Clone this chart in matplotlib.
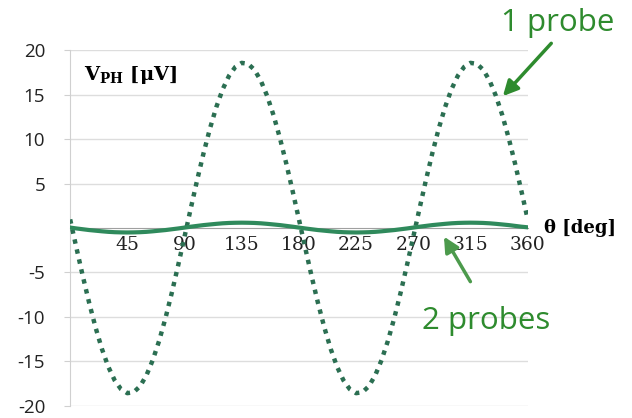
import numpy as np
import matplotlib
matplotlib.use("Agg")
import matplotlib.pyplot as plt

plt.rcParams["axes.unicode_minus"] = False
plt.rcParams["mathtext.fontset"] = "dejavuserif"

# angle [deg], sampled every 5 degrees
theta = list(range(0, 365, 5))

# 1 probe (dotted), in uV
one_probe = [0.97, -2.27, -5.44, -8.44, -11.19, -13.60, -15.60, -17.12, -18.12, -18.57,
             -18.46, -17.79, -16.57, -14.85, -12.69, -10.13, -7.27, -4.18,
             -0.97, 2.27, 5.44, 8.44, 11.19, 13.60, 15.60, 17.12, 18.12, 18.57,
             18.46, 17.79, 16.57, 14.85, 12.69, 10.13, 7.27, 4.18,
             0.97, -2.27, -5.44, -8.44, -11.19, -13.60, -15.60, -17.12, -18.12, -18.57,
             -18.46, -17.79, -16.57, -14.85, -12.69, -10.13, -7.27, -4.18,
             -0.97, 2.27, 5.44, 8.44, 11.19, 13.60, 15.60, 17.12, 18.12, 18.57,
             18.46, 17.79, 16.57, 14.85, 12.69, 10.13, 7.27, 4.18, 0.97]

# 2 probes (solid)
two_probes = [0.05, -0.05, -0.14, -0.23, -0.30, -0.37, -0.43, -0.47, -0.49, -0.50,
              -0.49, -0.47, -0.43, -0.37, -0.30, -0.23, -0.14, -0.05,
              0.05, 0.15, 0.24, 0.33, 0.40, 0.47, 0.53, 0.57, 0.59, 0.60,
              0.59, 0.57, 0.53, 0.47, 0.40, 0.33, 0.24, 0.15,
              0.05, -0.05, -0.14, -0.23, -0.30, -0.37, -0.43, -0.47, -0.49, -0.50,
              -0.49, -0.47, -0.43, -0.37, -0.30, -0.23, -0.14, -0.05,
              0.05, 0.15, 0.24, 0.33, 0.40, 0.47, 0.53, 0.57, 0.59, 0.60,
              0.59, 0.57, 0.53, 0.47, 0.40, 0.33, 0.24, 0.15, 0.08]

x_ticks = [45, 90, 135, 180, 225, 270, 315, 360]
y_ticks = [-20, -15, -10, -5, 5, 10, 15, 20]

dot_col = "#2b6f52"
solid_col = "#2f8a5c"
note_col = "#2e8b2e"

fig = plt.figure(figsize=(6.32, 4.18), dpi=100)
ax = fig.add_axes([0.111, 0.029, 0.724, 0.851])

ax.plot(theta, one_probe, linestyle=(0, (1, 1.3)), color=dot_col, lw=3.2,
        dash_capstyle="butt", zorder=3)
ax.plot(theta, two_probes, "-", color=solid_col, lw=3, zorder=4)

ax.set_xlim(0, 360)
ax.set_ylim(-20, 20)
ax.set_yticks(y_ticks)
ax.set_xticks(x_ticks)
ax.grid(axis="y", color="#dddddd", lw=1)
ax.set_axisbelow(True)

for s in ["top", "right"]:
    ax.spines[s].set_visible(False)
ax.spines["left"].set_color("#d0d0d0")
ax.spines["bottom"].set_position(("data", 0))
ax.spines["bottom"].set_color("#a0a0a0")

ax.tick_params(axis="x", length=0, pad=6, labelsize=13.5, labelcolor="#222222")
ax.tick_params(axis="y", length=4, color="#d0d0d0", pad=14, labelsize=13.5,
               labelcolor="#222222")
for lab in ax.get_xticklabels():
    lab.set_fontfamily("DejaVu Serif")
for lab in ax.get_yticklabels():
    lab.set_fontfamily("Open Sans")

ax.text(0.03, 0.93, r"$\mathbf{V_{PH}}$ [μV]", transform=ax.transAxes,
        fontsize=14, fontweight="bold", family="DejaVu Serif", va="center")
ax.text(1.036, 0.0, "θ [deg]", transform=ax.get_yaxis_transform(),
        fontsize=13, fontweight="bold", family="DejaVu Serif", va="center")

ax.annotate("", xy=(339, 14.6), xytext=(380, 21.0), annotation_clip=False,
            arrowprops=dict(arrowstyle="-|>,head_length=0.9,head_width=0.45",
                            color=note_col, lw=2.5))
fig.text(0.792, 0.945, "1 probe", color=note_col, fontsize=22.5,
         family="Open Sans", va="center")

ax.annotate("", xy=(293, -0.7), xytext=(316, -6.3), annotation_clip=False,
            arrowprops=dict(arrowstyle="-|>,head_length=0.9,head_width=0.45",
                            color="#4c9a4c", lw=2.5))
fig.text(0.668, 0.232, "2 probes", color=note_col, fontsize=22.5,
         family="Open Sans", va="center")

fig.savefig("out.png", dpi=100)
